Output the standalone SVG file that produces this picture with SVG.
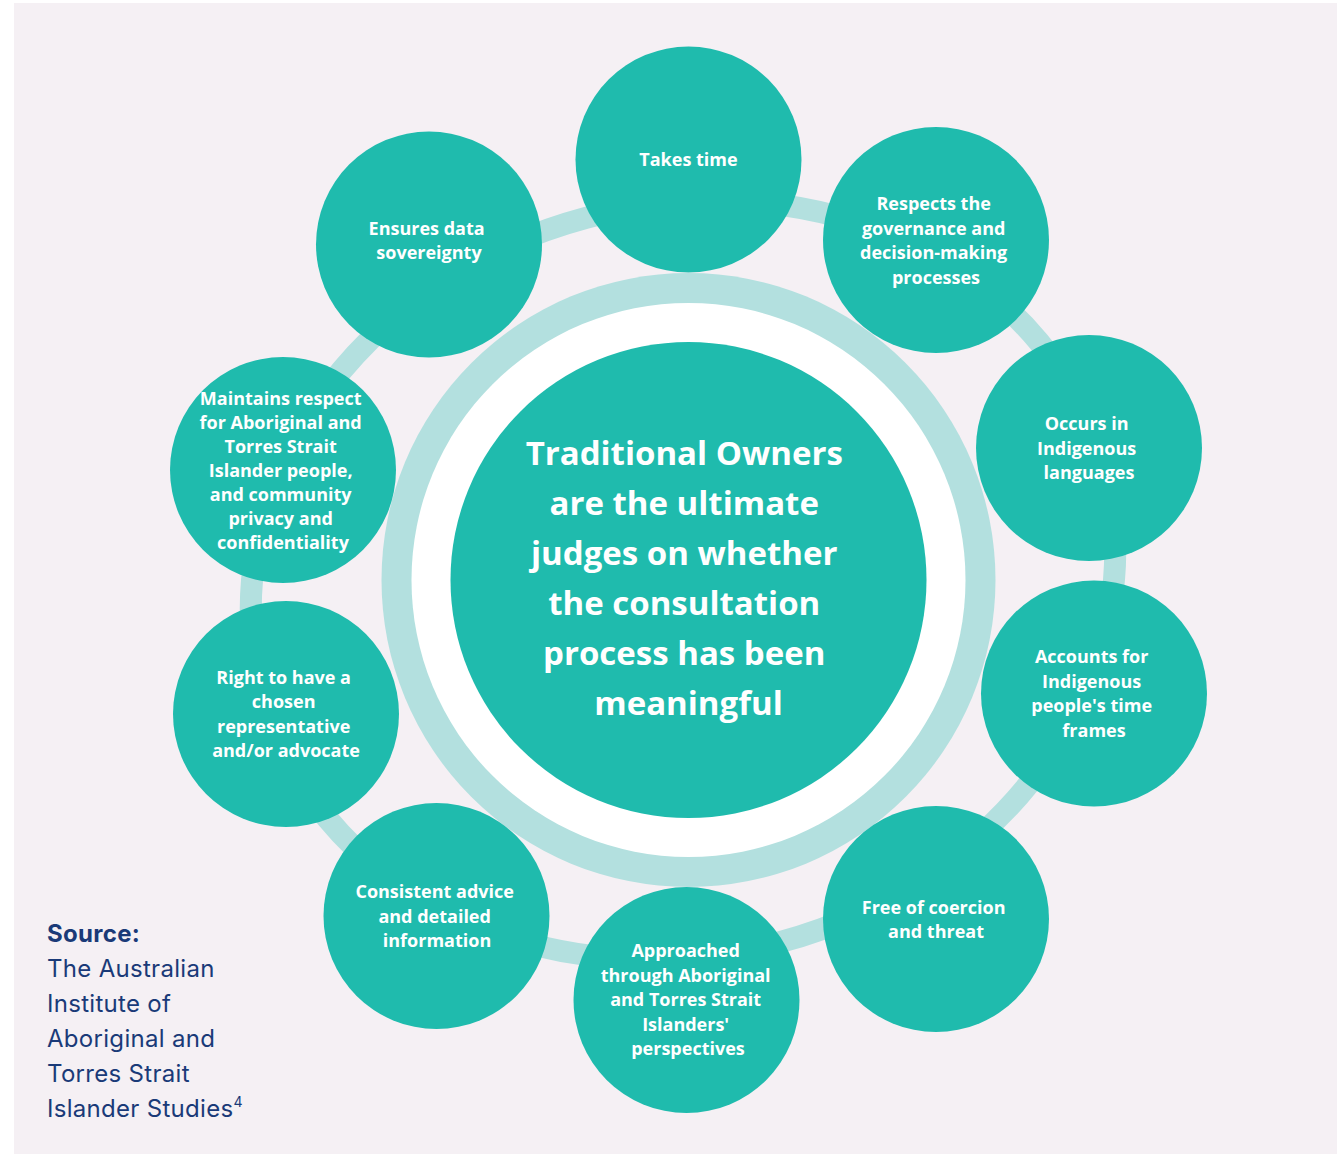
<svg xmlns="http://www.w3.org/2000/svg" width="1341" height="1154" viewBox="0 0 1341 1154">
  <style>
    .node { fill: #1fbbad; }
    .label { font-family: "Open Sans", "Liberation Sans", sans-serif; font-weight: 700; font-size: 18px; fill: #ffffff; text-anchor: middle; }
    .core { font-family: "Open Sans", "Liberation Sans", sans-serif; font-weight: 700; font-size: 33px; fill: #ffffff; text-anchor: middle; }
    .src { font-family: Inter, "Liberation Sans", sans-serif; font-size: 24px; letter-spacing: 0.3px; fill: #1a3a78; }
  </style>

  <!-- page -->
  <rect x="0" y="0" width="1341" height="1154" fill="#ffffff"/>
  <rect x="14" y="3" width="1323" height="1151" fill="#f5f0f4"/>

  <!-- connectors: the loop linking the outer circles -->
  <g id="connectors">
    <ellipse cx="683" cy="580" rx="436" ry="375" transform="rotate(-15 683 580)" fill="none" stroke="#b3e0df" stroke-width="22"/>
  </g>

  <!-- central statement -->
  <g id="centre">
    <circle cx="688.5" cy="580" r="307" fill="#b3e0df"/>
    <circle cx="688.5" cy="580" r="277" fill="#ffffff"/>
    <circle cx="688.5" cy="580" r="238" class="node"/>
    <text class="core">
      <tspan x="688.5" y="465">Traditional Owners</tspan>
      <tspan x="688.5" y="515">are the ultimate</tspan>
      <tspan x="688.5" y="565">judges on whether</tspan>
      <tspan x="688.5" y="615">the consultation</tspan>
      <tspan x="688.5" y="665">process has been</tspan>
      <tspan x="688.5" y="715">meaningful</tspan>
    </text>
  </g>

  <g id="takes-time">
    <circle cx="688.5" cy="159.5" r="113" class="node"/>
    <text class="label"><tspan x="688.5" y="166">Takes time</tspan></text>
  </g>

  <g id="respects-governance">
    <circle cx="936" cy="240" r="113" class="node"/>
    <text class="label">
      <tspan x="936" y="210">Respects the</tspan>
      <tspan x="936" y="235">governance and</tspan>
      <tspan x="936" y="259">decision-making</tspan>
      <tspan x="936" y="284">processes</tspan>
    </text>
  </g>

  <g id="indigenous-languages">
    <circle cx="1089" cy="448" r="113" class="node"/>
    <text class="label">
      <tspan x="1089" y="430">Occurs in</tspan>
      <tspan x="1089" y="455">Indigenous</tspan>
      <tspan x="1089" y="479">languages</tspan>
    </text>
  </g>

  <g id="time-frames">
    <circle cx="1094" cy="693.5" r="113" class="node"/>
    <text class="label">
      <tspan x="1094" y="663">Accounts for</tspan>
      <tspan x="1094" y="688">Indigenous</tspan>
      <tspan x="1094" y="712">people's time</tspan>
      <tspan x="1094" y="737">frames</tspan>
    </text>
  </g>

  <g id="free-of-coercion">
    <circle cx="936" cy="919" r="113" class="node"/>
    <text class="label">
      <tspan x="936" y="914">Free of coercion</tspan>
      <tspan x="936" y="938">and threat</tspan>
    </text>
  </g>

  <g id="perspectives">
    <circle cx="686.5" cy="1000" r="113" class="node"/>
    <text class="label">
      <tspan x="688" y="957">Approached</tspan>
      <tspan x="688" y="982">through Aboriginal</tspan>
      <tspan x="688" y="1006">and Torres Strait</tspan>
      <tspan x="688" y="1031">Islanders'</tspan>
      <tspan x="688" y="1055">perspectives</tspan>
    </text>
  </g>

  <g id="consistent-advice">
    <circle cx="436.5" cy="916" r="113" class="node"/>
    <text class="label">
      <tspan x="437" y="898">Consistent advice</tspan>
      <tspan x="437" y="923">and detailed</tspan>
      <tspan x="437" y="947">information</tspan>
    </text>
  </g>

  <g id="representative">
    <circle cx="286" cy="714" r="113" class="node"/>
    <text class="label">
      <tspan x="286" y="684">Right to have a</tspan>
      <tspan x="286" y="708">chosen</tspan>
      <tspan x="286" y="733">representative</tspan>
      <tspan x="286" y="757">and/or advocate</tspan>
    </text>
  </g>

  <g id="respect-privacy">
    <circle cx="283" cy="470" r="113" class="node"/>
    <text class="label">
      <tspan x="283" y="405">Maintains respect</tspan>
      <tspan x="283" y="429">for Aboriginal and</tspan>
      <tspan x="283" y="453">Torres Strait</tspan>
      <tspan x="283" y="477">Islander people,</tspan>
      <tspan x="283" y="501">and community</tspan>
      <tspan x="283" y="525">privacy and</tspan>
      <tspan x="283" y="549">confidentiality</tspan>
    </text>
  </g>

  <g id="data-sovereignty">
    <circle cx="429" cy="244.5" r="113" class="node"/>
    <text class="label">
      <tspan x="429" y="235">Ensures data</tspan>
      <tspan x="429" y="259">sovereignty</tspan>
    </text>
  </g>

  <!-- attribution -->
  <g id="source">
    <text class="src" x="47" y="942" font-weight="700">Source:</text>
    <text class="src">
      <tspan x="47" y="977">The Australian</tspan>
      <tspan x="47" y="1012">Institute of</tspan>
      <tspan x="47" y="1047">Aboriginal and</tspan>
      <tspan x="47" y="1082">Torres Strait</tspan>
      <tspan x="47" y="1117">Islander Studies<tspan font-size="14" dy="-10">4</tspan></tspan>
    </text>
  </g>
</svg>
